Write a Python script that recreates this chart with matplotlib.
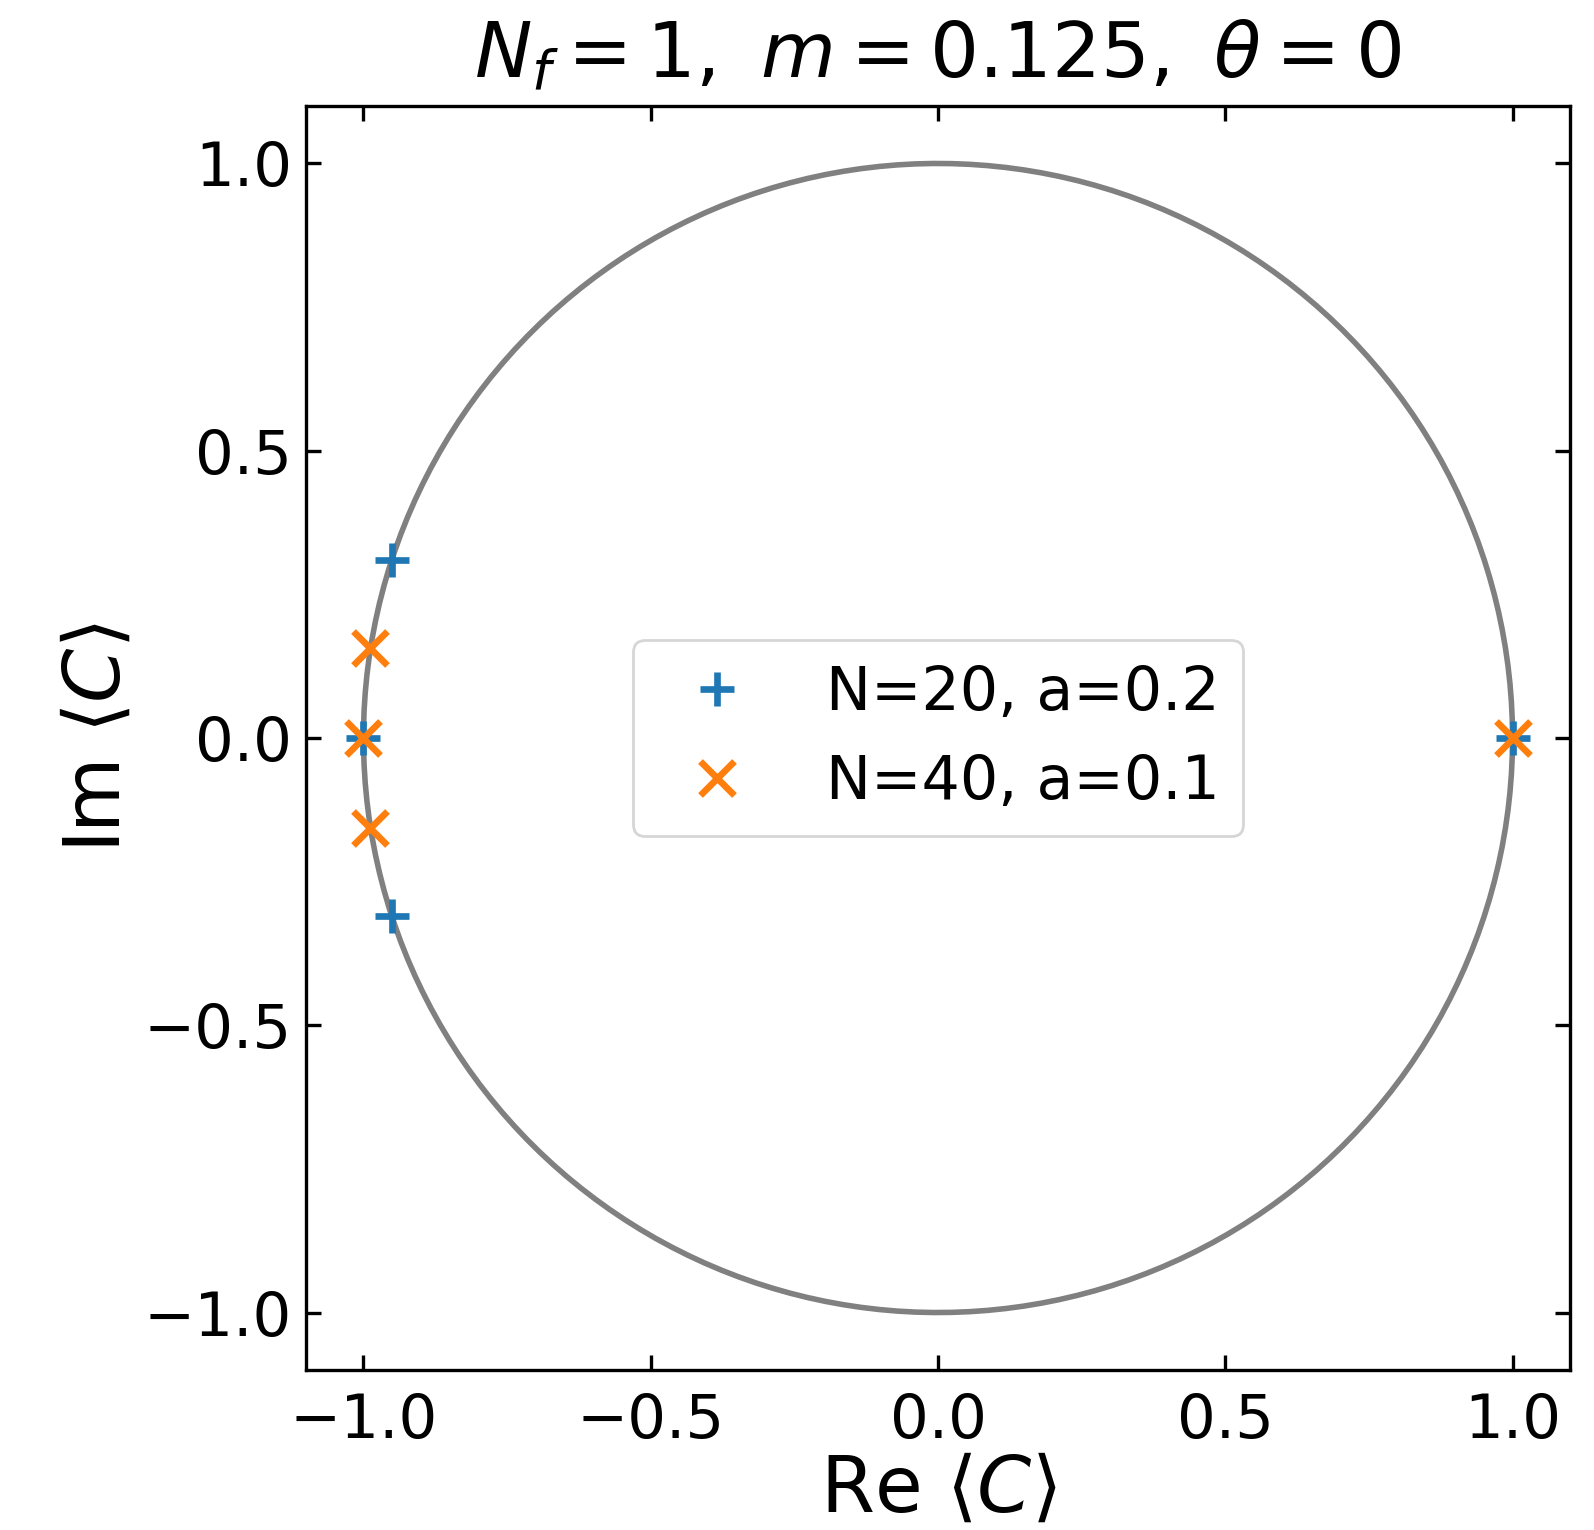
import numpy as np
import matplotlib
matplotlib.use("Agg")
import matplotlib.pyplot as plt

# Polyakov-loop expectation values <C> in the complex plane
n20_re = [-0.951, -1.0, -0.951, 1.0]
n20_im = [0.309, 0.0, -0.309, 0.0]
n40_re = [-0.988, -1.0, -0.988, 1.0]
n40_im = [0.156, 0.0, -0.156, 0.0]
labels = ["N=20, a=0.2", "N=40, a=0.1"]
title = r"$N_f=1,\ m=0.125,\ \theta=0$"

fig = plt.figure(figsize=(7.97, 7.65), dpi=200)
ax = fig.add_axes([306 / 1594, 160 / 1530, 1264 / 1594, 1264 / 1530])

# unit circle
phi = np.linspace(0, 2 * np.pi, 200)
ax.plot(np.cos(phi), np.sin(phi), color="gray", lw=2.0, zorder=1)

ax.plot(n20_re, n20_im, ls="none", marker="+", ms=12, mew=2.4,
        color="C0", label=labels[0], zorder=2)
ax.plot(n40_re, n40_im, ls="none", marker="x", ms=12.5, mew=2.4,
        color="C1", label=labels[1], zorder=3)

ax.set_xlim(-1.1, 1.1)
ax.set_ylim(-1.1, 1.1)
ax.set_xticks([-1.0, -0.5, 0.0, 0.5, 1.0])
ax.set_yticks([-1.0, -0.5, 0.0, 0.5, 1.0])
ax.tick_params(direction="in", top=True, right=True, length=5.5,
               width=1.2, labelsize=22)
ax.tick_params(axis="x", pad=8)
ax.tick_params(axis="y", pad=5)
for s in ax.spines.values():
    s.set_linewidth(1.2)

ax.set_xlabel(r"Re $\langle C \rangle$", fontsize=28, labelpad=0)
ax.set_ylabel(r"Im $\langle C \rangle$", fontsize=28, labelpad=3)
ax.set_title(title, fontsize=27.7, pad=10)

ax.legend(loc="center", fontsize=21.7)

fig.savefig("out.png", dpi=200)
